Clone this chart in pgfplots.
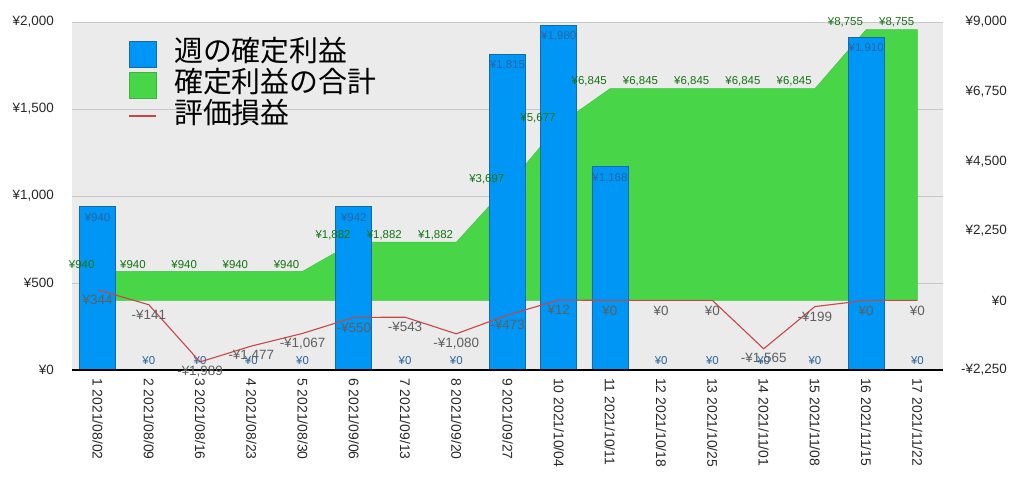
\documentclass[border=0pt]{standalone}
\usepackage{fontspec}
\setmainfont{Liberation Sans}
\newfontfamily\jp{Noto Sans CJK JP}
\usepackage{pgfplots}
\usepackage{pgfplotstable}
\pgfplotsset{compat=1.18}
\definecolor{barblue}{RGB}{0,150,245}
\definecolor{baredge}{RGB}{25,105,170}
\definecolor{areagreen}{RGB}{72,213,72}
\definecolor{bggray}{RGB}{235,235,235}
\definecolor{gridgray}{RGB}{200,200,200}
\definecolor{redline}{RGB}{200,70,70}
\definecolor{barlab}{RGB}{40,100,160}
\definecolor{greenlab}{RGB}{20,115,20}
\definecolor{redlab}{RGB}{95,95,95}
\definecolor{ticklab}{RGB}{40,40,40}

% x cumulative valuation
\pgfplotstableread{
x cum val cumlab vallab
1 940 344 ¥940 ¥344
2 940 -141 ¥940 -¥141
3 940 -1989 ¥940 -¥1,989
4 940 -1477 ¥940 -¥1,477
5 940 -1067 ¥940 -¥1,067
6 1882 -550 ¥1,882 -¥550
7 1882 -543 ¥1,882 -¥543
8 1882 -1080 ¥1,882 -¥1,080
9 3697 -473 ¥3,697 -¥473
10 5677 12 ¥5,677 ¥12
11 6845 0 ¥6,845 ¥0
12 6845 0 ¥6,845 ¥0
13 6845 0 ¥6,845 ¥0
14 6845 -1565 ¥6,845 -¥1,565
15 6845 -199 ¥6,845 -¥199
16 8755 0 ¥8,755 ¥0
17 8755 0 ¥8,755 ¥0
}\data

\pgfplotstableread{
x bar
1 940
2 0
3 0
4 0
5 0
6 942
7 0
8 0
9 1815
10 1980
11 1168
12 0
13 0
14 0
15 0
16 1910
17 0
}\bars

\pgfplotstableread{
x bar lab
1 940 ¥940
6 942 ¥942
9 1815 ¥1,815
10 1980 ¥1,980
11 1168 ¥1,168
16 1910 ¥1,910
}\barsnz

\pgfplotstableread{
x bar lab
2 0 ¥0
3 0 ¥0
4 0 ¥0
5 0 ¥0
7 0 ¥0
8 0 ¥0
12 0 ¥0
13 0 ¥0
14 0 ¥0
15 0 ¥0
17 0 ¥0
}\barsz

\pgfplotsset{
  base/.style={
    scale only axis, width=871bp, height=348bp,
    at={(0,0)}, anchor=south west,
    xmin=0.5, xmax=17.5,
    clip=false,
  }
}

\begin{document}
\begin{tikzpicture}
\path[use as bounding box] (-72bp,-113bp) rectangle (952bp,370bp);

% Axis 1: background, grid, green area (right scale)
\begin{axis}[base,
  ymin=-2250, ymax=9000,
  axis background/.style={fill=bggray},
  axis line style={draw=none},
  tick style={draw=none},
  xtick=\empty,
  ytick={-2250,562.5,3375,6187.5,9000},
  yticklabels={},
  ymajorgrids,
  major grid style={gridgray, line width=0.8bp},
]
\addplot[fill=areagreen, draw=areagreen!90!black, line width=0.4bp] coordinates {
(1,0) (1,940) (2,940) (3,940) (4,940) (5,940) (6,1882) (7,1882) (8,1882)
(9,3697) (10,5677) (11,6845) (12,6845) (13,6845) (14,6845) (15,6845)
(16,8755) (17,8755) (17,0)} -- cycle;
\end{axis}

% Axis 2: bars (left scale)
\begin{axis}[base,
  ymin=0, ymax=2000,
  axis on top,
  axis x line*=bottom,
  axis y line*=left,
  x axis line style={line width=1.8bp, black, -},
  y axis line style={draw=none},
  tick style={draw=none},
  xtick={1,...,17},
  xticklabels={1 2021/08/02,2 2021/08/09,3 2021/08/16,4 2021/08/23,5 2021/08/30,6 2021/09/06,7 2021/09/13,8 2021/09/20,9 2021/09/27,10 2021/10/04,11 2021/10/11,12 2021/10/18,13 2021/10/25,14 2021/11/01,15 2021/11/08,16 2021/11/15,17 2021/11/22},
  xticklabel shift=8bp,
  xticklabel style={rotate=-90, anchor=west, inner sep=0pt, font=\fontsize{14}{14}\selectfont, text=ticklab},
  ytick={0,500,1000,1500,2000},
  yticklabels={¥0,¥500,{¥1,000},{¥1,500},{¥2,000}},
  yticklabel style={anchor=east, inner sep=0pt, xshift=-18bp, font=\fontsize{13.5}{13.5}\selectfont, text=ticklab},
]
\addplot[ybar, bar width=36bp, fill=barblue, draw=baredge, line width=0.6bp] table[x=x, y=bar] {\bars};
\addplot[draw=none, mark=none, nodes near coords, point meta=explicit symbolic,
  nodes near coords style={anchor=center, yshift=-11bp, inner sep=0pt, font=\fontsize{11.5}{11.5}\selectfont, text=barlab}]
  table[x=x, y=bar, meta=lab] {\barsnz};
\addplot[draw=none, mark=none, nodes near coords, point meta=explicit symbolic,
  nodes near coords style={anchor=center, yshift=9bp, inner sep=0pt, font=\fontsize{11.5}{11.5}\selectfont, text=barlab}]
  table[x=x, y=bar, meta=lab] {\barsz};
\end{axis}

% Axis 3: red line, labels, right scale, legend
\begin{axis}[base,
  ymin=-2250, ymax=9000,
  axis x line=none,
  axis y line*=right,
  y axis line style={draw=none},
  tick style={draw=none},
  ytick={-2250,0,2250,4500,6750,9000},
  yticklabels={{-¥2,250},{¥0},{¥2,250},{¥4,500},{¥6,750},{¥9,000}},
  yticklabel style={anchor=east, inner sep=0pt, xshift=64bp, font=\fontsize{13.5}{13.5}\selectfont, text=ticklab},
  legend cell align=left,
  legend style={at={(rel axis cs:0.065,0.952)}, anchor=north west, draw=none, fill=none,
    font=\jp\fontsize{29}{31}\selectfont, row sep=0bp, inner sep=0pt,
    nodes={inner sep=1bp, text height=22bp, text depth=6.8bp}},
]
\addlegendimage{legend image code/.code={\path[draw=none,fill=none] (0bp,0bp) -- (44bp,0bp); \draw[fill=barblue, draw=baredge, line width=0.6bp] (0bp,-13bp) rectangle (27bp,13bp);}}
\addlegendentry{週の確定利益}
\addlegendimage{legend image code/.code={\path[draw=none,fill=none] (0bp,0bp) -- (44bp,0bp); \draw[fill=areagreen, draw=areagreen!85!black, line width=0.6bp] (0bp,-13bp) rectangle (27bp,13bp);}}
\addlegendentry{確定利益の合計}
\addlegendimage{legend image code/.code={\path[draw=none,fill=none] (0bp,0bp) -- (44bp,0bp); \path[fill=redline, draw=none] (0bp,-0.8bp) rectangle (27bp,0.8bp);}}
\addlegendentry{評価損益}

\addplot[redline, line width=1.1bp, mark=none, forget plot] table[x=x, y=val] {\data};
\addplot[draw=none, mark=none, forget plot, nodes near coords, point meta=explicit symbolic,
  nodes near coords style={anchor=center, yshift=-10bp, inner sep=0pt, font=\fontsize{13.5}{13.5}\selectfont, text=redlab}]
  table[x=x, y=val, meta=vallab] {\data};
\addplot[draw=none, mark=none, forget plot, nodes near coords, point meta=explicit symbolic,
  nodes near coords style={anchor=east, xshift=-3bp, yshift=7bp, inner sep=0pt, font=\fontsize{11.5}{11.5}\selectfont, text=greenlab}]
  table[x=x, y=cum, meta=cumlab] {\data};
\end{axis}
\end{tikzpicture}
\end{document}
